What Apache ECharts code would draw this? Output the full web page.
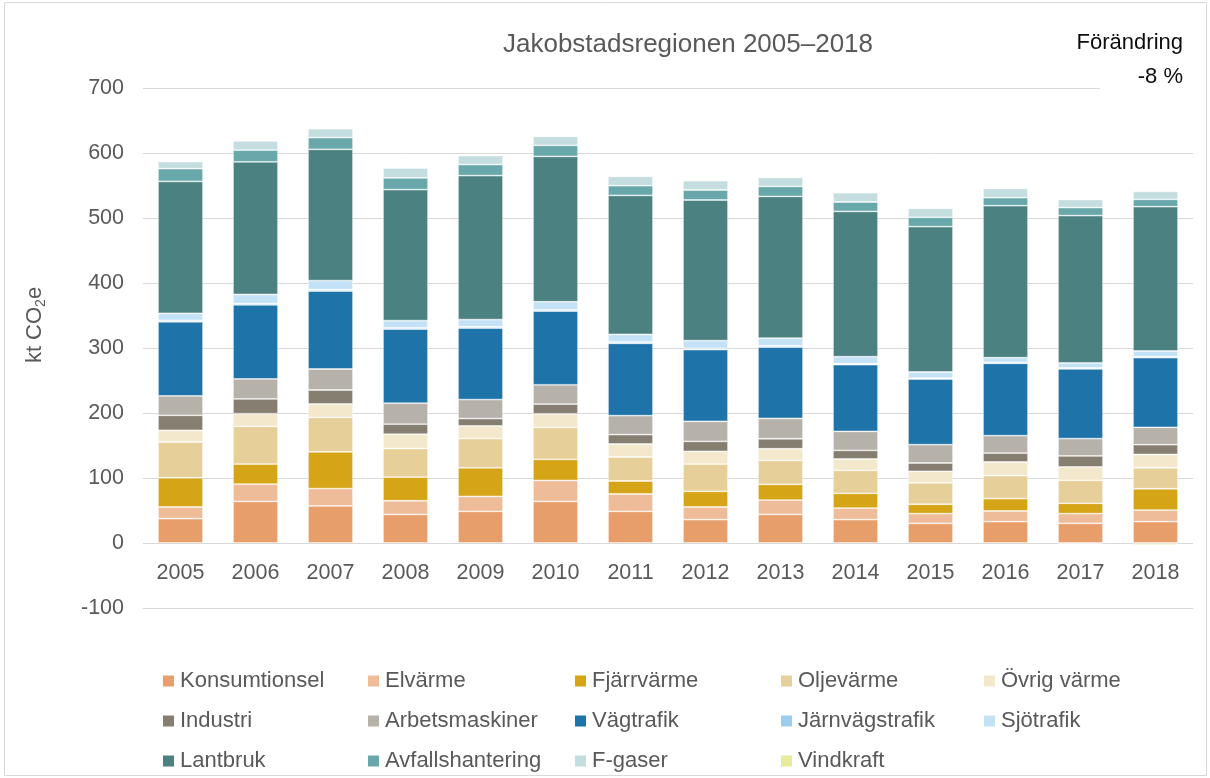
<!DOCTYPE html>
<html>
<head>
<meta charset="utf-8">
<script src="https://cdn.jsdelivr.net/npm/echarts@6/dist/echarts.min.js"></script>
<style>
html,body{margin:0;padding:0;background:#fff;}
#chart{width:1210px;height:778px;}
</style>
</head>
<body>
<div id="chart"></div>
<script>
const years = ['2005','2006','2007','2008','2009','2010','2011','2012','2013','2014','2015','2016','2017','2018'];
const yTicks = { min: -100, max: 700, interval: 100 };

const konsumtionsel   = [37.4, 64, 57, 44, 48.7, 64, 48.7, 35.9, 44.1, 35.9, 30.3, 32.8, 30.3, 32.8];
const elvarme         = [18, 26.7, 26.7, 21, 23, 32.3, 26.7, 19.5, 22, 17.9, 14.9, 16.4, 14.9, 17.9];
const fjarrvarme      = [45, 30.8, 56.4, 36.4, 44, 32.3, 20, 24.1, 24.1, 22.6, 14.4, 19, 15.9, 32.8];
const oljevarme       = [55, 58, 53.3, 44, 45, 49.2, 36.9, 42, 36.9, 35.4, 32.8, 35.4, 35.4, 32.3];
const ovrigVarme      = [18, 19.5, 20.5, 22, 19.5, 21, 20, 19.5, 17.9, 17.4, 17.9, 21, 20.5, 20.5];
const industri        = [23, 22.6, 21.5, 15.4, 11.3, 14.9, 14.4, 15.4, 15.4, 13.3, 12.8, 13.8, 16.9, 14.9];
const arbetsmaskiner  = [30, 30.8, 32.3, 32.3, 29.2, 29.7, 29.2, 30.8, 31.3, 29.2, 28.2, 26.7, 26.7, 26.7];
const vagtrafik       = [114, 114, 120, 114, 110, 113.3, 111.3, 110.3, 109.7, 102.6, 101, 111.3, 107.2, 107.2];
const jarnvagstrafik  = [2, 2, 2, 2, 2, 2, 2, 2, 2, 1.5, 1.5, 1.5, 1.5, 1.5];
const sjotrafik       = [11, 14, 14, 11, 11, 12.5, 11.8, 11.8, 11.8, 10.8, 9.3, 7.2, 7.7, 8.8];
const lantbruk        = [203, 204, 202, 201.5, 221.5, 223.6, 213.8, 216.4, 218, 223.6, 223.6, 233.8, 226.7, 222];
const avfallshantering= [19.5, 18, 18, 18, 17, 17, 14.9, 15.4, 15.4, 14.4, 14.4, 12.3, 12.3, 11.3];
const fgaser          = [11, 14.4, 13.8, 15.4, 13.8, 13.8, 14.4, 14.4, 13.8, 14.4, 13.8, 14.4, 12.3, 12.3];
const vindkraft       = [0, 0, 0, 0, 0, 0, 0, 0, 0, 0, 0, 0, -1.5, -3];

const seriesNames = ['Konsumtionsel','Elvärme','Fjärrvärme','Oljevärme','Övrig värme','Industri','Arbetsmaskiner','Vägtrafik','Järnvägstrafik','Sjötrafik','Lantbruk','Avfallshantering','F-gaser','Vindkraft'];
const seriesData = [konsumtionsel, elvarme, fjarrvarme, oljevarme, ovrigVarme, industri, arbetsmaskiner, vagtrafik, jarnvagstrafik, sjotrafik, lantbruk, avfallshantering, fgaser, vindkraft];
const seriesColors = ['#E89E6B','#EEBC99','#D5A417','#E7CF99','#F4E8CC','#857E71','#B6B1A9','#1E73A9','#9CCCEE','#C4E2F5','#4B8181','#69A8AA','#C4DDDE','#E9EB9C'];

const FONT = '"Liberation Sans", Arial, sans-serif';
const legendColX = [163, 368, 575, 781, 984];
const legendRowY = [680, 720, 760];

const chart = echarts.init(document.getElementById('chart'), null, {renderer: 'canvas'});

const legends = seriesNames.map((n, i) => ({
  data: [n],
  left: legendColX[i % 5],
  top: legendRowY[Math.floor(i / 5)] - 10,
  padding: 0,
  icon: 'rect',
  itemWidth: 11,
  itemHeight: 11,
  itemGap: 0,
  selectedMode: false,
  itemStyle: { borderWidth: 0 },
  textStyle: { fontSize: 22, color: '#595959', fontFamily: FONT, padding: [0, 0, 0, 1] }
}));

const option = {
  animation: false,
  backgroundColor: '#fff',
  textStyle: { fontFamily: FONT },
  grid: { left: 143, right: 17, top: 88, bottom: 170, containLabel: false },
  legend: legends,
  xAxis: {
    type: 'category',
    data: years,
    axisLine: { show: true, onZero: false, lineStyle: { color: '#D9D9D9', width: 1 } },
    axisTick: { show: false },
    axisLabel: { margin: -46, fontSize: 21.5, color: '#595959', fontFamily: FONT },
    splitLine: { show: false }
  },
  yAxis: {
    type: 'value',
    min: yTicks.min,
    max: yTicks.max,
    interval: yTicks.interval,
    axisLine: { show: false },
    axisTick: { show: false },
    axisLabel: { margin: 19, fontSize: 21.5, color: '#595959', fontFamily: FONT },
    splitLine: { lineStyle: { color: '#D9D9D9', width: 1 } }
  },
  series: seriesNames.map((n, i) => ({
    name: n,
    type: 'bar',
    stack: 'total',
    barCategoryGap: '40%',
    data: seriesData[i],
    itemStyle: { color: seriesColors[i], borderColor: 'rgba(255,255,255,0.55)', borderWidth: 0.8 },
    emphasis: { disabled: true }
  })),
  graphic: [
    {
      type: 'rect',
      z: 100,
      shape: { x: 1100, y: 24, width: 100, height: 72 },
      style: { fill: '#fff' }
    },
    {
      type: 'text',
      z: 101,
      x: 1183, y: 43,
      style: { text: 'Förändring', fontSize: 22, fontFamily: FONT, fill: '#0d0d0d', textAlign: 'right', textVerticalAlign: 'middle' }
    },
    {
      type: 'text',
      z: 101,
      x: 1183, y: 77,
      style: { text: '-8 %', fontSize: 22, fontFamily: FONT, fill: '#0d0d0d', textAlign: 'right', textVerticalAlign: 'middle' }
    },
    {
      type: 'text',
      z: 101,
      x: 688, y: 45,
      style: { text: 'Jakobstadsregionen 2005–2018', fontSize: 26, fontFamily: FONT, fill: '#595959', textAlign: 'center', textVerticalAlign: 'middle' }
    },
    {
      type: 'text',
      z: 101,
      x: 35, y: 325,
      rotation: Math.PI / 2,
      style: {
        text: '{a|kt CO}{b|2}{a|e}',
        textAlign: 'center',
        textVerticalAlign: 'middle',
        rich: {
          a: { fontSize: 22, fontFamily: FONT, fill: '#595959', color: '#595959', lineHeight: 26, verticalAlign: 'middle' },
          b: { fontSize: 14, fontFamily: FONT, fill: '#595959', color: '#595959', lineHeight: 26, verticalAlign: 'bottom' }
        }
      }
    },
    {
      type: 'rect',
      z: 102,
      silent: true,
      shape: { x: 4.5, y: 2.5, width: 1202, height: 773 },
      style: { fill: 'none', stroke: '#D9D9D9', lineWidth: 1 }
    }
  ]
};
chart.setOption(option);
</script>
</body>
</html>
